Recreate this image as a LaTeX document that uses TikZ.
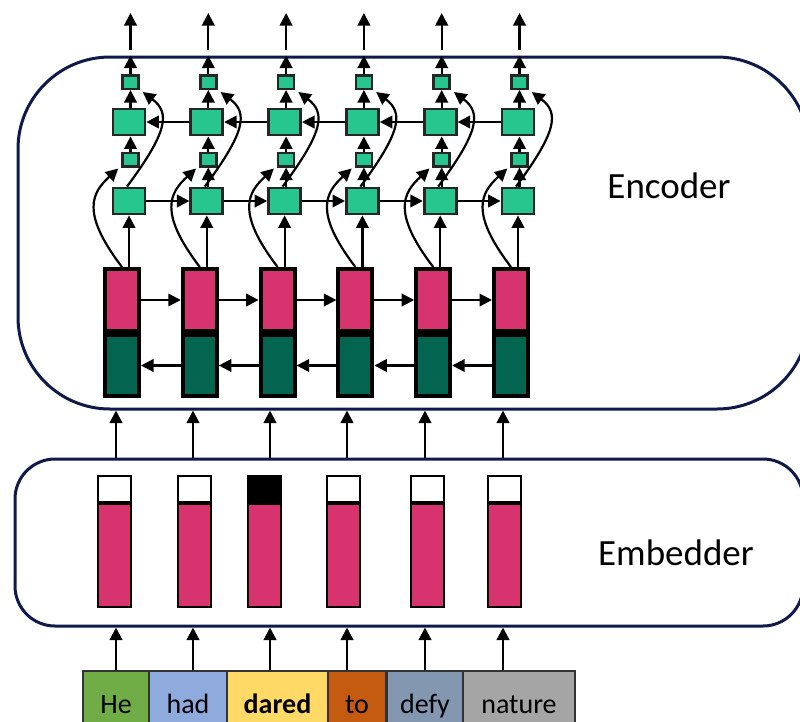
\documentclass[tikz,border=0pt]{standalone}
\usepackage{fontspec}
\setmainfont{Carlito}
\usetikzlibrary{arrows.meta,calc}
\definecolor{navy}{HTML}{0F1A4A}
\definecolor{pinkc}{HTML}{D7336F}
\definecolor{dkgreen}{HTML}{03654F}
\definecolor{mint}{HTML}{27C68F}
\definecolor{wgreen}{HTML}{70AD47}
\definecolor{wblue}{HTML}{8FAADC}
\definecolor{wyellow}{HTML}{FFD966}
\definecolor{worange}{HTML}{C55A11}
\definecolor{wslate}{HTML}{8497B0}
\definecolor{wgray}{HTML}{A5A5A5}
\begin{document}
\begin{tikzpicture}[x=1pt,y=-1pt,
  arr/.style={line width=2.2pt,-{Triangle[length=12.5pt,width=12.5pt]}},
  cont/.style={draw=navy,line width=3pt,inner sep=0pt},
  bigg/.style={draw=black!85,fill=mint,line width=2.8pt,minimum width=32pt,minimum height=26pt,inner sep=0pt},
  smallg/.style={draw=black!85,fill=mint,line width=2.5pt,minimum width=16pt,minimum height=13.5pt,inner sep=0pt},
  barp/.style={draw=black,fill=pinkc,line width=4pt,minimum width=34pt,minimum height=62pt,inner sep=0pt},
  bard/.style={draw=black,fill=dkgreen,line width=4pt,minimum width=34pt,minimum height=61pt,inner sep=0pt},
  embtop/.style={draw=black,line width=2pt,minimum width=33pt,minimum height=26pt,inner sep=0pt},
  embbar/.style={draw=black,fill=pinkc,line width=2pt,minimum width=33pt,minimum height=103pt,inner sep=0pt},
  word/.style={draw=black!80,line width=1.2pt,minimum height=74pt,inner sep=0pt,text height=18pt,text depth=8pt,font=\fontsize{28}{32}\selectfont},
  lab/.style={font=\fontsize{37}{40}\selectfont,inner sep=0pt}
]
\useasboundingbox (0,0) rectangle (800,721);
\clip (0,0) rectangle (800,721);

% containers
\node[cont,rounded corners=92pt,minimum width=791pt,minimum height=352pt] (enc) at (413.5,233) {};
\node[cont,rounded corners=40pt,minimum width=788pt,minimum height=167pt] (emb) at (409,542.5) {};
\node[lab] (enclab) at (669,186) {Encoder};
\node[lab] (emblab) at (676,553) {Embedder};

% encoder columns
\foreach \i in {0,...,5} {
  \pgfmathsetmacro{\gx}{129+77.8*\i}
  \pgfmathsetmacro{\bx}{122+77.8*\i}
  \pgfmathsetmacro{\sx}{\gx+1.5}
  \node[barp] (p\i) at (\bx,300) {};
  \node[bard] (g\i) at (\bx,365.5) {};
  \node[bigg] (blo\i) at (\gx,201) {};
  \node[bigg] (bup\i) at (\gx,122) {};
  \node[smallg] (slo\i) at (\sx,159.5) {};
  \node[smallg] (sup\i) at (\sx,82) {};
}
\coordinate (outs) at (0,50);
\coordinate (outt) at (0,13);
\foreach \i in {0,...,5} {
  \draw[arr] (blo\i.south |- p\i.north) -- (blo\i.south);
  \draw[arr] (slo\i.north) -- (slo\i.north |- bup\i.south);
  \draw[arr] (sup\i.south |- bup\i.north) -- (sup\i.south);
  \draw[arr] (sup\i.north) -- (sup\i.north |- enc.north);
  \draw[arr] (sup\i.north |- outs) -- (sup\i.north |- outt);
  \draw[arr] (p\i.north) .. controls +(-42,-55) and +(-26,24) .. ($(slo\i.south west)+(-3,1)$);
  \draw[arr] ($(blo\i.north)+(-2,0)$) .. controls +(40,-54) and +(28,21) .. ($(sup\i.south east)+(3,2)$);
}
\foreach \i in {1,...,5} {
  \draw[arr] (slo\i.south |- blo\i.north) -- (slo\i.south);
}
\foreach \i/\j in {0/1,1/2,2/3,3/4,4/5} {
  \draw[arr] (p\i.east) -- (p\j.west);
  \draw[arr] (g\j.west) -- (g\i.east);
  \draw[arr] (blo\i.east) -- (blo\j.west);
  \draw[arr] (bup\j.west) -- (bup\i.east);
}

% embedder bars
\foreach \k/\cx/\tf in {0/114.5/white,1/194.5/white,2/264.5/black,3/343/white,4/427.5/white,5/504/white} {
  \node[embtop,fill=\tf] (et\k) at (\cx,489) {};
  \node[embbar] (eb\k) at (\cx,555.5) {};
}

% words
\node[word,fill=wgreen,minimum width=66pt] (w0) at (116,708) {He};
\node[word,fill=wblue,minimum width=78pt] (w1) at (188,708) {had};
\node[word,fill=wyellow,minimum width=101pt] (w2) at (277.5,708) {\textbf{dared}};
\node[word,fill=worange,minimum width=58pt] (w3) at (357,708) {to};
\node[word,fill=wslate,minimum width=76pt] (w4) at (425,708) {defy};
\node[word,fill=wgray,minimum width=112pt] (w5) at (519,708) {nature};

% vertical connectors between stages
\foreach \k/\ax in {0/116,1/193,2/270,3/347,4/425,5/503} {
  \coordinate (ax\k) at (\ax,0);
  \draw[arr] (ax\k |- emb.north) -- (ax\k |- enc.south);
  \draw[arr] (ax\k |- w\k.north) -- (ax\k |- emb.south);
}
\end{tikzpicture}
\end{document}
